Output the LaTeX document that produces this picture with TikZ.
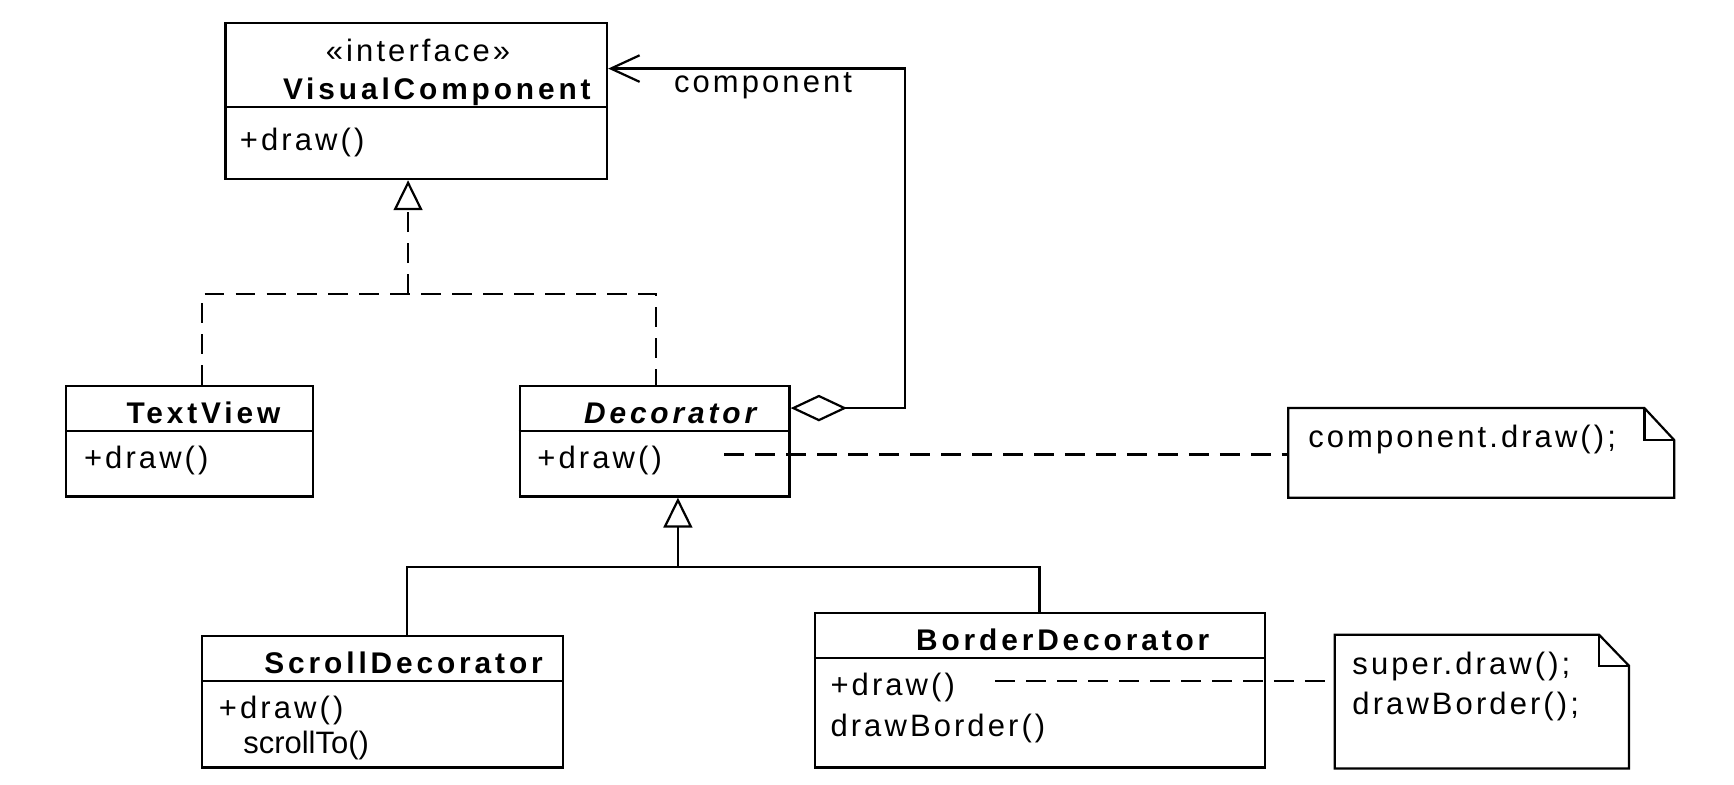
\documentclass[tikz,border=0pt]{standalone}
\usepackage{fontspec}
\setmainfont{Liberation Sans}[LetterSpace=10]
\usetikzlibrary{arrows.meta,fit}
\begin{document}
\begin{tikzpicture}[x=0.5pt,y=-0.5pt, line width=1pt,
  box/.style={draw, inner sep=0pt, fit={#1}},
  area/.style={inner sep=0pt, fit={#1}},
  txt/.style={inner sep=0pt, anchor=base west, font=\fontsize{14}{16}\selectfont},
  lbl/.style={inner sep=0pt, anchor=base, font=\fontsize{14}{16}\selectfont},
  nm/.style={inner sep=0pt, anchor=base, font=\fontsize{13.5}{16}\selectfont\bfseries\addfontfeature{LetterSpace=13}},
  dsh/.style={dash pattern=on 9pt off 5pt},
  realize/.style={-{Triangle[open,length=13.5pt,width=13pt]}},
  general/.style={-{Triangle[open,length=13.5pt,width=13pt]}},
  assoc/.style={{Diamond[open,length=25.5pt,width=12pt]}-{Straight Barb[length=13pt,width=12pt]}},
]
\useasboundingbox (0,0) rectangle (1568,709);

% classes
\node[box={(204,21) (549,162)}] (vc) {};
\draw (vc.west |- 0,97) -- (vc.east |- 0,97);
\node[lbl] (vcst) at (378,56) {«interface»};
\node[nm] (vcname) at (395,90) {VisualComponent};
\node[txt] (vcop) at (216,136) {+draw()};

\node[box={(60,349) (283,449)}] (tv) {};
\draw (tv.west |- 0,390) -- (tv.east |- 0,390);
\node[nm] (tvname) at (184,383) {TextView};
\node[txt] (tvop) at (75,424) {+draw()};

\node[box={(470,349) (714,449)}] (dec) {};
\draw (dec.west |- 0,390) -- (dec.east |- 0,390);
\node[nm, font=\fontsize{13.5}{16}\selectfont\bfseries\itshape\addfontfeature{LetterSpace=13}] (decname) at (606,383) {Decorator};
\node[txt] (decop) at (485,424) {+draw()};

\node[box={(183,575) (509,694)}] (sd) {};
\draw (sd.west |- 0,616) -- (sd.east |- 0,616);
\node[nm] (sdname) at (365,609) {ScrollDecorator};
\node[txt] (sdop1) at (197,650) {+draw()};
\node[txt, font=\fontsize{14}{16}\selectfont\addfontfeature{LetterSpace=0}] (sdop2) at (219,681) {scrollTo()};

\node[box={(737,554) (1144,694)}] (bd) {};
\draw (bd.west |- 0,595) -- (bd.east |- 0,595);
\node[nm] (bdname) at (961,588) {BorderDecorator};
\node[txt] (bdop1) at (750,629) {+draw()};
\node[txt] (bdop2) at (750,666) {drawBorder()};

% notes
\node[area={(1166,370) (1513,449)}] (n1) {};
\draw (n1.south west) -- (n1.north west) -- ([xshift=-13.5pt]n1.north east) -- ([yshift=-14.5pt]n1.north east) -- (n1.south east) -- cycle;
\draw ([xshift=-13.5pt]n1.north east) |- ([yshift=-14.5pt]n1.north east);
\node[txt] (n1t) at (1182,405) {component.draw();};

\node[area={(1208,575) (1472,694)}] (n2) {};
\draw (n2.south west) -- (n2.north west) -- ([xshift=-13.5pt]n2.north east) -- ([yshift=-14pt]n2.north east) -- (n2.south east) -- cycle;
\draw ([xshift=-13.5pt]n2.north east) |- ([yshift=-14pt]n2.north east);
\node[txt] (n2t1) at (1222,610) {super.draw();};
\node[txt] (n2t2) at (1222,646) {drawBorder();};

% realization
\coordinate (j1) at (369,266);
\coordinate (j2) at (183,266);
\coordinate (j3) at (593,266);
\coordinate (tb1) at (369,189);
\draw[dsh] (j2 |- tv.north) -- (j2) -- (j3) -- (j3 |- dec.north);
\draw[dsh] (j1) -- (tb1);
\draw[realize] (tb1) -- (tb1 |- vc.south);

% generalization
\coordinate (j4) at (613,513);
\coordinate (j5) at (368,513);
\coordinate (j6) at (940,513);
\coordinate (tb2) at (613,476);
\draw (j5 |- sd.north) -- (j5) -- (j6) -- (j6 |- bd.north);
\draw (j4) -- (tb2);
\draw[general] (tb2) -- (tb2 |- dec.south);

% aggregation / association
\coordinate (c1) at (818,62);
\coordinate (c2) at (818,369);
\draw[assoc] (dec.east |- c2) -- (c2) -- (c1) -- (vc.east |- c1);
\node[lbl] (clbl) at (690,84) {component};

% note links
\coordinate (d1) at (655,411);
\coordinate (d2) at (900,616);
\draw[dsh] (d1) -- (d1 -| n1.west);
\draw[dsh] (d2) -- (d2 -| n2.west);
\end{tikzpicture}
\end{document}
